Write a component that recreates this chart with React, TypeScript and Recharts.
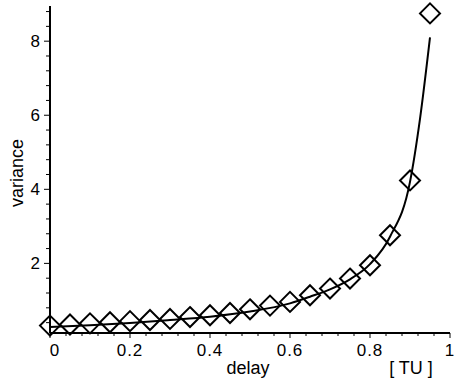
import React from "react";
import { ComposedChart, Line, Scatter, XAxis, YAxis } from "recharts";

// measured points (diamonds)
const delays = [0, 0.05, 0.1, 0.15, 0.2, 0.25, 0.3, 0.35, 0.4, 0.45, 0.5, 0.55, 0.6, 0.65, 0.7, 0.75, 0.8, 0.85, 0.9, 0.95];
const variances = [0.32, 0.35, 0.38, 0.41, 0.44, 0.47, 0.5, 0.55, 0.6, 0.66, 0.76, 0.86, 0.96, 1.14, 1.32, 1.59, 1.95, 2.76, 4.24, 8.75];

// fitted curve (solid line)
const curveX = [0, 0.1, 0.2, 0.3, 0.4, 0.5, 0.6, 0.65, 0.7, 0.75, 0.8, 0.85, 0.9, 0.925, 0.95];
const curveY = [0.28, 0.33, 0.39, 0.47, 0.56, 0.7, 0.92, 1.1, 1.3, 1.57, 1.98, 2.72, 4.2, 5.9, 8.1];

const xTicks = Array.from({ length: 26 }, (_, i) => +(i * 0.04).toFixed(2));
const yTicks = Array.from({ length: 22 }, (_, i) => +((i + 1) * 0.4).toFixed(1));
const xLabels = [0, 0.2, 0.4, 0.6, 0.8, 1];
const yLabels = [2, 4, 6, 8];

const points = delays.map((d, i) => ({ x: d, v: variances[i] }));
const curve = curveX.map((d, i) => ({ x: d, c: curveY[i] }));

const font = "'Liberation Sans', Arial, sans-serif";

const XTick = (props: any) => {
  const { x, y, payload } = props;
  const major = xLabels.some((l) => Math.abs(l - payload.value) < 1e-6);
  return (
    <g>
      <line x1={x} x2={x} y1={y} y2={y + (major ? 5 : 3)} stroke="#000" strokeWidth={1} />
      {major && (
        <text x={payload.value === 0 ? x + 5 : x} y={y + 23} textAnchor="middle" fontSize={17} letterSpacing={1} fontFamily={font} fill="#000">
          {String(payload.value)}
        </text>
      )}
    </g>
  );
};

const YTick = (props: any) => {
  const { x, y, payload } = props;
  const major = yLabels.some((l) => Math.abs(l - payload.value) < 1e-6);
  return (
    <g>
      <line x1={x - (major ? 6 : 4)} x2={x} y1={y} y2={y} stroke="#000" strokeWidth={1} />
      {major && (
        <text x={x - 10} y={y + 6} textAnchor="end" fontSize={17} fontFamily={font} fill="#000">
          {payload.value}
        </text>
      )}
    </g>
  );
};

const Diamond = (props: any) => {
  const { cx, cy } = props;
  const r = 10;
  return (
    <polygon
      points={`${cx},${cy - r} ${cx + r},${cy} ${cx},${cy + r} ${cx - r},${cy}`}
      fill="none"
      stroke="#000"
      strokeWidth={2}
    />
  );
};

export default function App() {
  return (
    <div style={{ position: "absolute", left: 0, top: 0, width: 455, height: 384, background: "#fff" }}>
      <ComposedChart width={455} height={384} margin={{ top: 6, right: 5, left: 0, bottom: 0 }}>
        <XAxis
          type="number"
          dataKey="x"
          domain={[0, 1]}
          ticks={xTicks}
          interval={0}
          height={51}
          tickSize={0}
          tickMargin={0}
          tickLine={false}
          axisLine={{ stroke: "#000", strokeWidth: 2 }}
          tick={<XTick />}
        />
        <YAxis
          type="number"
          domain={[0.12, 8.95]}
          ticks={yTicks}
          interval={0}
          width={50}
          tickSize={0}
          tickMargin={0}
          tickLine={false}
          axisLine={{ stroke: "#000", strokeWidth: 2 }}
          tick={<YTick />}
        />
        <Line
          data={curve}
          dataKey="c"
          type="monotone"
          stroke="#000"
          strokeWidth={2}
          dot={false}
          activeDot={false}
          isAnimationActive={false}
        />
        <Scatter data={points} dataKey="v" shape={<Diamond />} isAnimationActive={false} />
      </ComposedChart>
      <svg width={455} height={384} style={{ position: "absolute", left: 0, top: 0, pointerEvents: "none" }}>
        <text x={248} y={374} textAnchor="middle" fontSize={18} fontFamily={font} fill="#000">delay</text>
        <text x={411} y={374} textAnchor="middle" fontSize={18} fontFamily={font} fill="#000">[ TU ]</text>
        <text x={23} y={173} textAnchor="middle" fontSize={18} fontFamily={font} fill="#000" transform="rotate(-90 23 173)">variance</text>
      </svg>
    </div>
  );
}
